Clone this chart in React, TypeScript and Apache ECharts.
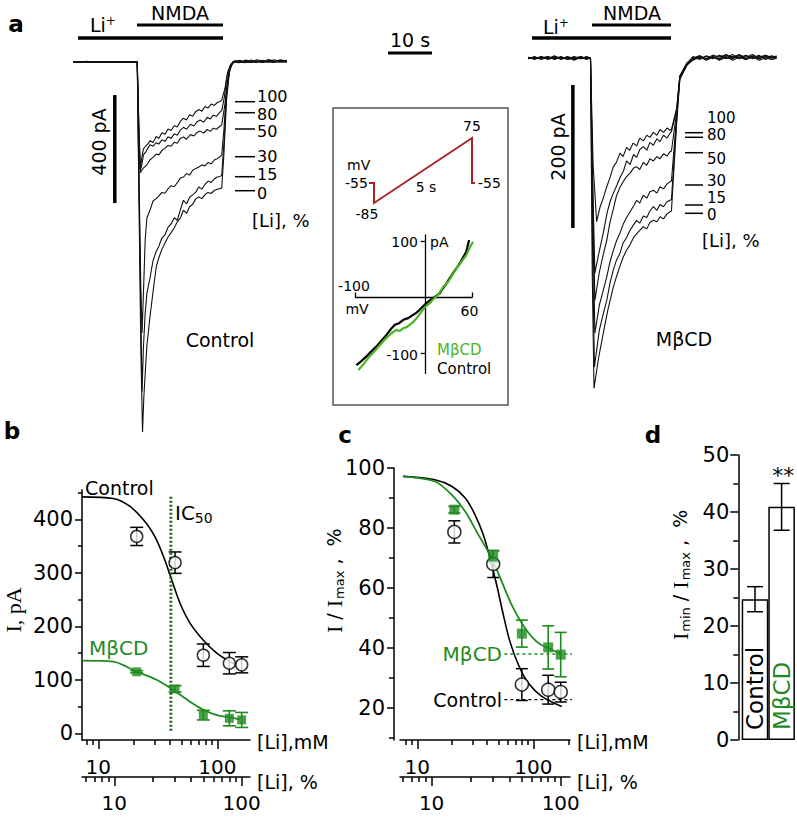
import React, { useEffect, useRef } from 'react';
import * as echarts from 'echarts';

const SANS = 'DejaVu Sans';
const SERIF = 'Liberation Serif';
const GREEN = '#1f8a1f';
const DKGREEN = '#1e6b1e';
const IV_GREEN = '#4ab51f';
const RED = '#a8262b';

// ---------- Panel a: current traces (time s, current pA) ----------
const ctrlT100 = [[0,2],[1.5,-1],[3,3],[4.5,0],[6,2],[7.5,-2],[9,1],[10.5,-1],[12,2],[13.5,-1],[14.6,0],[15.0,-250],[15.3,-393],[15.6,-360],[16.0,-322],[16.5,-312],[17.0,-303],[17.5,-292],[18.2,-298],[18.9,-276],[19.5,-283],[20.2,-262],[20.9,-268],[21.6,-248],[22.3,-254],[23.0,-236],[23.7,-241],[24.4,-220],[25.1,-208],[25.8,-215],[26.5,-195],[27.2,-201],[27.9,-184],[28.6,-176],[29.3,-182],[30.0,-165],[30.7,-170],[31.4,-156],[32.1,-161],[32.8,-150],[33.4,-146],[33.8,-141],[34.5,-100],[35.2,-35],[36.0,-6],[36.8,5],[38.0,-2],[39.3,7],[40.6,1],[41.9,8],[43.2,2],[44.5,9],[45.8,3],[47.1,8],[48.6,4]];
const ctrlT80 = [[0,-1],[1.5,2],[3,-2],[4.5,1],[6,-1],[7.5,2],[9,-2],[10.5,1],[12,-1],[13.5,2],[14.6,0],[15.0,-270],[15.3,-400],[15.6,-385],[16.0,-345],[16.5,-334],[17.0,-320],[17.5,-306],[18.2,-312],[18.9,-299],[19.5,-304],[20.2,-288],[20.9,-294],[21.6,-277],[22.3,-283],[23.0,-266],[23.7,-271],[24.4,-252],[25.1,-242],[25.8,-249],[26.7,-231],[27.5,-237],[28.2,-221],[28.9,-215],[29.7,-223],[30.5,-205],[31.2,-211],[31.9,-197],[32.6,-201],[33.4,-186],[33.8,-180],[34.4,-130],[35.0,-50],[35.8,-10],[36.6,3],[37.9,6],[39.2,-1],[40.5,7],[41.8,0],[43.1,6],[44.4,1],[45.7,8],[47.0,2],[48.6,6]];
const ctrlT50 = [[0,1],[1.5,-2],[3,2],[4.5,-1],[6,1],[7.5,-1],[9,2],[10.5,-2],[12,1],[13.5,-1],[14.6,0],[15.0,-290],[15.3,-410],[15.6,-402],[16.0,-392],[16.5,-386],[17.0,-376],[17.5,-362],[18.2,-353],[18.9,-341],[19.5,-344],[20.2,-328],[20.9,-320],[21.6,-309],[22.3,-312],[23.0,-297],[23.7,-301],[24.4,-283],[25.1,-278],[25.8,-286],[26.7,-269],[27.5,-274],[28.2,-261],[28.9,-256],[29.7,-263],[30.5,-250],[31.2,-257],[31.9,-245],[32.6,-249],[33.4,-238],[33.8,-233],[34.5,-160],[35.2,-60],[36.0,-12],[36.8,3],[38.0,0],[39.3,5],[40.6,-1],[41.9,4],[43.2,0],[44.5,6],[45.8,1],[47.1,5],[48.6,3]];
const ctrlT30 = [[0,0],[1.5,1],[3,-1],[4.5,2],[6,-2],[7.5,1],[9,-1],[10.5,2],[12,-1],[13.5,1],[14.6,0],[15.0,-420],[15.4,-820],[15.7,-1004],[16.0,-860],[16.4,-660],[16.8,-578],[17.5,-548],[18.2,-515],[18.9,-506],[19.5,-497],[20.2,-483],[20.9,-486],[21.6,-470],[22.3,-458],[23.0,-462],[23.7,-447],[24.4,-430],[25.1,-426],[25.8,-413],[26.5,-419],[27.2,-401],[27.9,-394],[28.6,-389],[29.3,-381],[30.0,-385],[30.7,-372],[31.4,-377],[32.1,-363],[32.8,-358],[33.4,-351],[33.8,-344],[34.3,-250],[34.9,-100],[35.6,-25],[36.4,0],[37.7,-3],[39.0,3],[40.3,-2],[41.6,4],[42.9,-1],[44.2,3],[45.5,-2],[46.8,3],[48.6,1]];
const ctrlT15 = [[0,-1],[1.5,1],[3,-1],[4.5,1],[6,0],[7.5,-2],[9,1],[10.5,-1],[12,1],[13.5,0],[14.6,0],[15.0,-460],[15.4,-920],[15.7,-1220],[16.0,-1060],[16.4,-930],[16.8,-856],[17.5,-800],[18.2,-735],[18.9,-702],[19.5,-683],[20.2,-652],[20.9,-640],[21.6,-612],[22.3,-600],[23.0,-577],[23.7,-586],[24.4,-548],[25.1,-512],[25.8,-526],[26.5,-501],[27.2,-492],[27.9,-482],[28.6,-463],[29.3,-471],[30.0,-453],[30.7,-441],[31.4,-446],[32.1,-433],[32.8,-426],[33.4,-424],[33.8,-420],[34.3,-300],[34.9,-120],[35.6,-25],[36.4,2],[37.7,-2],[39.0,2],[40.3,-1],[41.6,3],[42.9,-2],[44.2,2],[45.5,0],[46.8,3],[48.6,1]];
const ctrlT0 = [[0,0],[1.5,-1],[3,1],[4.5,-2],[6,1],[7.5,0],[9,-1],[10.5,1],[12,0],[13.5,-1],[14.6,0],[15.0,-520],[15.4,-1050],[15.8,-1370],[16.1,-1240],[16.5,-1129],[16.8,-1050],[17.5,-943],[18.2,-850],[18.9,-760],[19.5,-725],[20.2,-694],[20.9,-670],[21.6,-648],[22.3,-632],[23.0,-615],[23.7,-592],[24.4,-578],[25.1,-549],[25.8,-561],[26.5,-536],[27.2,-527],[27.9,-507],[28.6,-500],[29.3,-506],[30.0,-491],[30.7,-483],[31.4,-487],[32.1,-476],[32.8,-471],[33.4,-469],[33.8,-467],[34.3,-340],[34.9,-140],[35.6,-30],[36.4,0],[37.7,2],[39.0,-3],[40.3,2],[41.6,-2],[42.9,3],[44.2,-1],[45.5,2],[46.8,-1],[48.6,0]];

const mbT100 = [[0,1],[1.5,-2],[3,2],[4.5,-1],[6,3],[7.5,-2],[9,1],[10.5,-3],[12,2],[13.3,-1],[14.2,0],[14.8,-150],[15.6,-229],[16.4,-208],[17.1,-196],[17.9,-180],[18.6,-168],[19.4,-152],[20.1,-146],[20.9,-133],[21.6,-138],[22.4,-125],[23.1,-129],[23.9,-119],[24.7,-123],[25.4,-112],[26.2,-116],[27.0,-108],[27.7,-111],[28.5,-104],[29.3,-108],[30.0,-100],[30.8,-104],[31.6,-98],[32.3,-101],[32.6,-100],[33.8,-70],[34.5,-25],[36.1,-7],[37.5,-1],[39,3],[40.5,-1],[42,4],[43.5,1],[45,5],[46.5,0],[48,4],[49.5,1],[51,5],[52.5,0],[54,3],[55.5,1],[56.5,2]];
const mbT80 = [[0,-1],[1.5,2],[3,-2],[4.5,1],[6,-1],[7.5,2],[9,-2],[10.5,1],[12,-1],[13.3,2],[14.2,0],[14.8,-200],[15.2,-301],[16.0,-276],[17.1,-245],[18.0,-216],[18.7,-200],[19.4,-189],[20.2,-178],[21.0,-166],[21.7,-158],[22.4,-144],[23.2,-149],[24.0,-135],[24.7,-139],[25.4,-128],[26.2,-124],[27.0,-129],[27.7,-118],[28.5,-122],[29.3,-113],[30.0,-117],[30.8,-108],[31.6,-112],[32.3,-105],[32.6,-103],[33.8,-72],[34.5,-26],[36.1,-8],[37.5,2],[39,-2],[40.5,3],[42,-1],[43.5,4],[45,0],[46.5,5],[48,-1],[49.5,3],[51,0],[52.5,4],[54,-2],[55.5,2],[56.5,0]];
const mbT50 = [[0,0],[1.5,1],[3,-1],[4.5,2],[6,-2],[7.5,1],[9,-1],[10.5,2],[12,-1],[13.3,1],[14.2,0],[14.8,-220],[15.2,-339],[16.2,-300],[17.1,-275],[17.9,-255],[18.6,-231],[19.4,-211],[20.1,-193],[20.9,-181],[21.6,-173],[22.4,-166],[23.2,-161],[24.0,-154],[24.7,-152],[25.4,-156],[26.2,-146],[27.0,-150],[27.7,-141],[28.5,-144],[29.3,-138],[30.0,-141],[30.8,-134],[31.6,-137],[32.3,-131],[32.6,-130],[33.8,-75],[34.5,-27],[36.1,-9],[37.5,0],[39,3],[40.5,-2],[42,2],[43.5,-1],[45,4],[46.5,1],[48,5],[49.5,-1],[51,3],[52.5,1],[54,4],[55.5,0],[56.5,3]];
const mbT30 = [[0,1],[1.5,-1],[3,2],[4.5,-2],[6,1],[7.5,-1],[9,2],[10.5,-1],[12,1],[13.3,-2],[14.2,0],[14.8,-250],[15.2,-385],[16.2,-346],[17.1,-325],[17.9,-306],[18.6,-286],[19.4,-269],[20.1,-256],[20.9,-245],[21.6,-233],[22.4,-223],[23.2,-215],[24.0,-207],[24.7,-199],[25.4,-203],[26.2,-192],[27.0,-196],[27.7,-187],[28.5,-185],[29.3,-189],[30.0,-180],[30.8,-183],[31.6,-176],[32.3,-173],[32.6,-172],[33.8,-80],[34.5,-28],[36.1,-10],[37.5,-2],[39,2],[40.5,-3],[42,1],[43.5,-2],[45,2],[46.5,-3],[48,1],[49.5,-2],[51,2],[52.5,-3],[54,0],[55.5,-2],[56.5,1]];
const mbT15 = [[0,-1],[1.5,1],[3,0],[4.5,2],[6,-1],[7.5,1],[9,-2],[10.5,0],[12,2],[13.3,-1],[14.2,0],[14.7,-280],[15.1,-432],[16.2,-381],[17.1,-358],[17.9,-339],[18.6,-316],[19.4,-296],[20.1,-283],[20.9,-273],[21.6,-259],[22.4,-251],[23.2,-241],[24.0,-233],[24.7,-227],[25.4,-231],[26.2,-221],[27.0,-223],[27.7,-214],[28.5,-208],[29.3,-213],[30.0,-205],[30.8,-208],[31.6,-201],[32.3,-199],[32.6,-198],[33.8,-85],[34.5,-29],[36.1,-10],[37.5,1],[39,-1],[40.5,2],[42,0],[43.5,3],[45,-1],[46.5,2],[48,0],[49.5,4],[51,-1],[52.5,2],[54,1],[55.5,3],[56.5,0]];
const mbT0 = [[0,0],[1.5,-1],[3,1],[4.5,-1],[6,2],[7.5,0],[9,1],[10.5,-2],[12,0],[13.3,1],[14.2,0],[14.6,-300],[15.0,-462],[16.0,-421],[17.1,-385],[18.2,-351],[19.4,-320],[20.1,-306],[20.9,-291],[21.6,-279],[22.4,-269],[23.2,-261],[24.0,-251],[24.7,-246],[25.4,-241],[26.2,-236],[27.0,-239],[27.7,-230],[28.5,-227],[29.3,-229],[30.0,-222],[30.8,-225],[31.6,-218],[32.3,-215],[32.6,-214],[33.8,-90],[34.5,-30],[36.1,-10],[37.5,-3],[39,1],[40.5,-2],[42,2],[43.5,-3],[45,1],[46.5,-1],[48,3],[49.5,-2],[51,1],[52.5,-1],[54,2],[55.5,-2],[56.5,0]];

const ctrlScaleBar = [[9.5, -122], [9.5, -522]]; // 400 pA
const mbScaleBar = [[10.2, -37.8], [10.2, -237.8]]; // 200 pA
const levelLabels = ['100', '80', '50', '30', '15', '0'];

// inset I-V (mV, pA)
const ivCtrl = [[-99,-121],[-92,-114],[-85,-106],[-78,-97],[-70.6,-88],[-63,-77],[-56,-67],[-50,-57],[-44,-49],[-38,-46],[-32,-40],[-25,-37],[-18,-31],[-13,-27],[-8.6,-22],[-4,-16],[1,-10],[6,-5],[10.4,-1.5],[15,3],[20,7.5],[25,17],[29.5,25],[35,36],[43.7,52],[50,64],[58,82],[62,103]];
const ivMbcd = [[-96,-130],[-88,-118],[-80.6,-106],[-70,-92],[-61,-79],[-55,-71],[-49,-64],[-42,-58],[-37,-60],[-32,-55],[-27,-53],[-23,-49],[-18,-44],[-13,-37],[-8,-29],[-4,-22],[1,-15],[6,-10],[10,-4],[15,1.5],[20,9],[25,19],[32,28],[38,40],[44,52],[51,64],[58,76],[64,92],[67.6,100]];

// ---------- Panel b ----------
const liPercent = [15, 30, 50, 80, 100];
const bCtrlMean = [368, 319, 146, 131, 128];
const bCtrlSem = [17, 20, 21, 20, 15];
const bMbcdMean = [115, 83, 34, 28, 25];
const bMbcdSem = [2, 6, 9, 14, 14];
const bCtrlFitX = [5.6, 9.8, 13.3, 17.9, 21.5, 25, 28.2, 32.8, 39.3, 50, 63.7, 81, 91.4];
const bCtrlFitY = [442, 439, 424, 392, 361, 323, 287, 243, 206, 174, 150, 134, 128];
const bMbcdFitX = [5.6, 9.8, 15, 21.5, 29, 39.3, 50, 63.7, 81, 97];
const bMbcdFitY = [136, 134, 115, 100, 81, 59, 44, 34, 30, 26];
const bIC50 = 27.8;

// ---------- Panel c ----------
const cCtrlMean = [78.7, 68, 27.8, 26.1, 25.3];
const cCtrlSem = [3.7, 4.5, 5.3, 4.8, 3.3];
const cMbcdMean = [86.1, 70.5, 44.8, 40.2, 37.8];
const cMbcdSem = [1.1, 1.9, 4.5, 7.2, 7.4];
const cCtrlFitX = [6.0, 10.6, 14.3, 18.2, 21.7, 25.1, 28.3, 31.9, 35.9, 40.4, 47.0, 56.1, 71.3, 101.9];
const cCtrlFitY = [97.2, 96.1, 93.9, 90, 84.4, 77.8, 70, 61.1, 51.1, 42.2, 34.4, 28.3, 23.9, 20.5];
const cMbcdFitX = [6.0, 10.6, 14.3, 18.2, 23.0, 29.2, 34.9, 41.7, 52.8, 67.0, 85.1, 98.8];
const cMbcdFitY = [97.2, 95.5, 91.1, 85.5, 77.8, 70, 62.2, 54.4, 46.7, 41.7, 39.4, 38.3];
const cCtrlMin = 22.8;
const cMbcdMin = 38;
const cMinLineX = [36.6, 152];

// ---------- Panel d ----------
const dCategories = ['Control', 'MβCD'];
const dMean = [24.7, 40.9];
const dSem = [2.2, 4.1];

// ticks
const mMMajor = [10, 100];
const mMMinor = [8, 9, 20, 30, 40, 50, 60, 70, 80, 90, 200];
const pctMajor = [10, 100];
const pctMinor = [6, 7, 8, 9, 20, 30, 40, 50, 60, 70, 80, 90];

const AX = { color: '#000', width: 1.5 };

const errRender = (cap: number, color: string, lw: number) => (params: any, api: any) => {
  const x = api.value(0);
  const lo = api.coord([x, api.value(1)]);
  const hi = api.coord([x, api.value(2)]);
  const st = { stroke: color, lineWidth: lw };
  return {
    type: 'group',
    children: [
      { type: 'line', shape: { x1: lo[0], y1: lo[1], x2: hi[0], y2: hi[1] }, style: st },
      { type: 'line', shape: { x1: lo[0] - cap, y1: lo[1], x2: lo[0] + cap, y2: lo[1] }, style: st },
      { type: 'line', shape: { x1: hi[0] - cap, y1: hi[1], x2: hi[0] + cap, y2: hi[1] }, style: st },
    ],
  };
};

const logX = (gridIndex: number, min: number, max: number, offset: number, ticks: number[], len: number, labels: number[] | null, margin: number, showLine: boolean) => ({
  type: 'log', logBase: 10, gridIndex, min, max, position: 'bottom', offset,
  axisLine: { show: showLine, onZero: false, lineStyle: AX },
  axisTick: { show: true, inside: false, length: len, customValues: ticks, lineStyle: AX },
  axisLabel: labels ? { show: true, customValues: labels, margin, fontSize: 20, color: '#000', fontFamily: SANS } : { show: false },
  splitLine: { show: false },
});

const valY = (gridIndex: number, min: number, max: number, offset: number, ticks: number[], len: number, labels: number[] | null, margin: number, showLine: boolean) => ({
  type: 'value', gridIndex, min, max, position: 'left', offset,
  axisLine: { show: showLine, onZero: false, lineStyle: AX },
  axisTick: { show: true, inside: false, length: len, customValues: ticks, lineStyle: AX },
  axisLabel: labels ? { show: true, customValues: labels, margin, fontSize: 21, color: '#000', fontFamily: SANS } : { show: false },
  splitLine: { show: false },
});

const G: any[] = [];
function T(x: number, y: number, text: string, o: any = {}) {
  G.push({
    type: 'text', x, y, rotation: o.rot || 0, z: 20,
    style: {
      text, fill: o.color || '#000', fontSize: o.size || 18, fontFamily: o.family || SANS,
      fontWeight: o.weight || 'normal', align: o.align || 'center', verticalAlign: 'middle', rich: o.rich,
    },
  });
}
function L(x1: number, y1: number, x2: number, y2: number, w: number, color = '#000') {
  G.push({ type: 'line', z: 20, shape: { x1, y1, x2, y2 }, style: { stroke: color, lineWidth: w } });
}

// panel letters
T(16, 24, 'a', { size: 23, weight: 'bold' });
T(12, 431, 'b', { size: 23, weight: 'bold' });
T(345, 435, 'c', { size: 23, weight: 'bold' });
T(653, 435, 'd', { size: 23, weight: 'bold' });
// drug bars
const sup = { sup: { fontSize: 12, fontFamily: SANS, padding: [0, 0, 9, 0] } };
L(78, 38, 223, 38, 3.5); L(137, 25, 223, 25, 3);
T(90, 25, 'Li{sup|+}', { size: 19, align: 'left', rich: sup });
T(180, 13, 'NMDA', { size: 19 });
L(532, 38, 671, 38, 3.5); L(592, 25, 671, 25, 3);
T(543, 27, 'Li{sup|+}', { size: 19, align: 'left', rich: sup });
T(632, 13, 'NMDA', { size: 19 });
T(410, 40, '10 s', { size: 19 }); L(388, 53, 432, 53, 3);
T(98.5, 142, '400 pA', { size: 19, rot: Math.PI / 2 });
T(557.5, 147, '200 pA', { size: 19, rot: Math.PI / 2 });
const lYl = [101.7, 112.7, 129, 156.7, 176.7, 190.7];
const lYt = [96.5, 114, 131.7, 156.7, 174.5, 193];
const rYl = [132.7, 137.3, 152.7, 185, 205, 213.3];
const rYt = [118, 135, 158.5, 181, 197.5, 214.5];
levelLabels.forEach((s, i) => {
  L(235, lYl[i], 255, lYl[i], 1.5); T(257, lYt[i], s, { size: 16, align: 'left' });
  L(685, rYl[i], 703, rYl[i], 1.5); T(707, rYt[i], s, { size: 15, align: 'left' });
});
T(252, 220, '[Li], %', { size: 18, align: 'left' });
T(702, 240, '[Li], %', { size: 18, align: 'left' });
T(220, 340, 'Control', { size: 19 });
T(684, 339, 'MβCD', { size: 19 });
// inset
G.push({ type: 'rect', z: 5, shape: { x: 333, y: 108, width: 175, height: 297 }, style: { fill: 'none', stroke: '#555', lineWidth: 1.5 } });
G.push({ type: 'polyline', z: 20, shape: { points: [[369, 183], [374, 183], [374, 203], [472, 138], [472, 183], [475, 183]] }, style: { fill: 'none', stroke: RED, lineWidth: 2 } });
T(347, 165, 'mV', { size: 14, align: 'left' });
T(345, 183, '-55', { size: 14, align: 'left' });
T(367, 214, '-85', { size: 14 });
T(426, 187, '5 s', { size: 14 });
T(472, 126, '75', { size: 14 });
T(478, 183, '-55', { size: 14, align: 'left' });
T(418, 242, '100', { size: 14, align: 'right' });
T(418, 355, '-100', { size: 14, align: 'right' });
T(430, 242, 'pA', { size: 14, align: 'left' });
T(354, 286, '-100', { size: 14 });
T(357, 309, 'mV', { size: 14 });
T(469.5, 311, '60', { size: 14 });
T(437, 350, 'MβCD', { size: 15, align: 'left', color: IV_GREEN });
T(437, 368.5, 'Control', { size: 15, align: 'left' });
// panel b texts
T(85, 488, 'Control', { size: 19, align: 'left' });
T(175, 513, 'IC{s|50}', { size: 20, align: 'left', rich: { s: { fontSize: 14, fontFamily: SANS, padding: [9, 0, 0, 0] } } });
T(89, 648, 'MβCD', { size: 20, align: 'left', color: GREEN });
T(13, 610, 'I, pA', { size: 22, family: SERIF, rot: Math.PI / 2 });
T(257, 742, '[Li],mM', { size: 19, align: 'left' });
T(257, 782, '[Li], %', { size: 19, align: 'left' });
// panel c texts
const yRich = {
  i: { fontFamily: SERIF, fontSize: 22 },
  t: { fontFamily: SANS, fontSize: 19 },
  s: { fontFamily: SANS, fontSize: 13, padding: [10, 0, 0, 1] },
};
T(334, 633, '{i|I}{t| / }{i|I}{s|max}{t| ,  %}', { rot: Math.PI / 2, rich: yRich, align: 'left' });
T(502, 654, 'MβCD', { size: 20, align: 'right', color: GREEN });
T(502, 700, 'Control', { size: 19, align: 'right' });
T(577, 742, '[Li],mM', { size: 19, align: 'left' });
T(577, 782, '[Li], %', { size: 19, align: 'left' });
// panel d texts
T(680, 640, '{i|I}{s|min}{t| / }{i|I}{s|max}{t| ,  %}', { rot: Math.PI / 2, rich: yRich, align: 'left' });
T(783.3, 475, '**', { size: 22 });

const lineS = (xi: number, yi: number, data: any, color: string, width: number, extra: any = {}) => ({
  type: 'line', xAxisIndex: xi, yAxisIndex: yi, data, symbol: 'none', silent: true,
  lineStyle: { color, width }, ...extra,
});
const zip = (xs: number[], ys: number[]) => xs.map((x, i) => [x, ys[i]]);
const errData = (xs: any[], m: number[], s: number[]) => xs.map((x, i) => [x, m[i] - s[i], m[i] + s[i]]);

const option: any = {
  animation: false,
  backgroundColor: '#fff',
  textStyle: { fontFamily: SANS },
  grid: [
    { left: 73, top: 55.25, width: 215.6, height: 384.75 },
    { left: 528, top: 50.85, width: 248.6, height: 350.35 },
    { left: 355.7, top: 235, width: 116.2, height: 138.4 },
    { left: 82, top: 490, width: 168, height: 250 },
    { left: 400, top: 468, width: 170, height: 272 },
    { left: 741.7, top: 455, width: 53.2, height: 285 },
  ],
  xAxis: [
    { type: 'value', gridIndex: 0, min: 0, max: 49, show: false },
    { type: 'value', gridIndex: 1, min: 0, max: 56.5, show: false },
    {
      type: 'value', gridIndex: 2, min: -100, max: 66,
      axisLine: { show: true, onZero: true, lineStyle: { color: '#000', width: 1.3 } },
      axisTick: { show: true, inside: true, length: 5, customValues: [-100, 66], lineStyle: { color: '#000', width: 1.3 } },
      axisLabel: { show: false }, splitLine: { show: false },
    },
    logX(3, 5.58, 116.2, 37, pctMajor, 9, pctMajor, 16, true),
    logX(3, 5.58, 116.2, 37, pctMinor, 5, null, 0, false),
    logX(3, 7.3, 188, 0, mMMajor, 9, mMMajor, 17, true),
    logX(3, 7.3, 188, 0, mMMinor, 5, null, 0, false),
    logX(4, 5.69, 118, 37, pctMajor, 9, pctMajor, 16, true),
    logX(4, 5.69, 118, 37, pctMinor, 5, null, 0, false),
    logX(4, 7.1, 207, 0, mMMajor, 9, mMMajor, 17, true),
    logX(4, 7.1, 207, 0, mMMinor, 5, null, 0, false),
    { type: 'category', gridIndex: 5, data: dCategories, show: false, boundaryGap: true },
  ],
  yAxis: [
    { type: 'value', gridIndex: 0, min: -1400, max: 25, show: false },
    { type: 'value', gridIndex: 1, min: -480, max: 10, show: false },
    {
      type: 'value', gridIndex: 2, min: -136, max: 112,
      axisLine: { show: true, onZero: true, lineStyle: { color: '#000', width: 1.3 } },
      axisTick: { show: true, inside: false, length: 5, customValues: [-100, 100], lineStyle: { color: '#000', width: 1.3 } },
      axisLabel: { show: false },
      splitLine: { show: false },
    },
    valY(3, -12.5, 454.8, 0, [0, 100, 200, 300, 400], 7, [0, 100, 200, 300, 400], 9, true),
    valY(3, -12.5, 454.8, 0, [50, 150, 250, 350, 450], 4, null, 0, false),
    valY(4, 9.33, 100, 6, [20, 40, 60, 80, 100], 7, [20, 40, 60, 80, 100], 9, true),
    valY(4, 9.33, 100, 6, [10, 30, 50, 70, 90], 5, null, 0, false),
    valY(5, 0, 50, 3.4, [0, 10, 20, 30, 40, 50], 8, [0, 10, 20, 30, 40, 50], 9, true),
    valY(5, 0, 50, 3.4, [5, 15, 25, 35, 45], 5, null, 0, false),
  ],
  graphic: { elements: G },
  series: [
    // panel a left
    ...[ctrlT100, ctrlT80, ctrlT50, ctrlT30, ctrlT15, ctrlT0].map((d) => lineS(0, 0, d, '#111', 1.1)),
    lineS(0, 0, ctrlScaleBar, '#000', 3.5),
    // panel a right
    ...[mbT100, mbT80, mbT50, mbT30, mbT15, mbT0].map((d) => lineS(1, 1, d, '#111', 1.1)),
    lineS(1, 1, mbScaleBar, '#000', 3.5),
    // inset IV
    lineS(2, 2, ivCtrl, '#000', 2.2, { clip: false }),
    lineS(2, 2, ivMbcd, IV_GREEN, 2.2, { clip: false }),
    // panel b
    lineS(3, 3, zip(bCtrlFitX, bCtrlFitY), '#000', 1.6, { smooth: 0.3 }),
    lineS(3, 3, zip(bMbcdFitX, bMbcdFitY), GREEN, 1.8, { smooth: 0.3 }),
    lineS(3, 3, [[bIC50, 5], [bIC50, 442]], DKGREEN, 3, { lineStyle: { color: DKGREEN, width: 3, type: [2, 2] } }),
    { type: 'custom', xAxisIndex: 3, yAxisIndex: 3, renderItem: errRender(6.5, '#000', 1.5), data: errData(liPercent, bCtrlMean, bCtrlSem), z: 3, silent: true },
    { type: 'custom', xAxisIndex: 3, yAxisIndex: 3, renderItem: errRender(6.5, GREEN, 1.6), data: errData(liPercent, bMbcdMean, bMbcdSem), z: 3, silent: true },
    { type: 'scatter', xAxisIndex: 3, yAxisIndex: 3, data: zip(liPercent, bCtrlMean), symbol: 'circle', symbolSize: 12, itemStyle: { color: '#fff', borderColor: '#000', borderWidth: 1.5 }, z: 5, silent: true },
    { type: 'scatter', xAxisIndex: 3, yAxisIndex: 3, data: zip(liPercent, bMbcdMean), symbol: 'rect', symbolSize: 9, itemStyle: { color: GREEN }, z: 5, silent: true },
    // panel c
    lineS(7, 5, zip(cCtrlFitX, cCtrlFitY), '#000', 1.6, { smooth: 0.3 }),
    lineS(7, 5, zip(cMbcdFitX, cMbcdFitY), GREEN, 1.8, { smooth: 0.3 }),
    lineS(7, 5, cMinLineX.map((x) => [x, cMbcdMin]), GREEN, 1.3, { clip: false, lineStyle: { color: GREEN, width: 1.3, type: [3, 3] } }),
    lineS(7, 5, cMinLineX.map((x) => [x, cCtrlMin]), '#000', 1.3, { clip: false, lineStyle: { color: '#000', width: 1.3, type: [3, 3] } }),
    { type: 'custom', xAxisIndex: 7, yAxisIndex: 5, renderItem: errRender(6, '#000', 1.5), data: errData(liPercent, cCtrlMean, cCtrlSem), z: 3, silent: true },
    { type: 'custom', xAxisIndex: 7, yAxisIndex: 5, renderItem: errRender(6, GREEN, 1.6), data: errData(liPercent, cMbcdMean, cMbcdSem), z: 3, silent: true },
    { type: 'scatter', xAxisIndex: 7, yAxisIndex: 5, data: zip(liPercent, cCtrlMean), symbol: 'circle', symbolSize: 13, itemStyle: { color: '#fff', borderColor: '#000', borderWidth: 1.5 }, z: 5, silent: true },
    { type: 'scatter', xAxisIndex: 7, yAxisIndex: 5, data: zip(liPercent, cMbcdMean), symbol: 'rect', symbolSize: 10, itemStyle: { color: GREEN }, z: 5, silent: true },
    // panel d
    {
      type: 'bar', xAxisIndex: 11, yAxisIndex: 7, barWidth: '100%', silent: true,
      itemStyle: { color: '#fff', borderColor: '#000', borderWidth: 1.5 },
      label: { show: true, position: 'insideBottom', rotate: 90, align: 'left', verticalAlign: 'middle', distance: 10, formatter: '{b}', fontSize: 23, fontFamily: SANS },
      data: dMean.map((v, i) => ({ value: v, label: { color: i === 0 ? '#000' : GREEN } })),
    },
    { type: 'custom', xAxisIndex: 11, yAxisIndex: 7, renderItem: errRender(8, '#000', 1.5), data: dMean.map((m, i) => [i, m - dSem[i], m + dSem[i]]), z: 5, silent: true },
  ],
};

export default function App() {
  const ref = useRef<HTMLDivElement>(null);
  useEffect(() => {
    const chart = echarts.init(ref.current!, null, { renderer: 'svg' });
    chart.setOption(option);
    return () => chart.dispose();
  }, []);
  return <div ref={ref} style={{ position: 'fixed', left: 0, top: 0, width: 797, height: 819, background: '#fff' }} />;
}
